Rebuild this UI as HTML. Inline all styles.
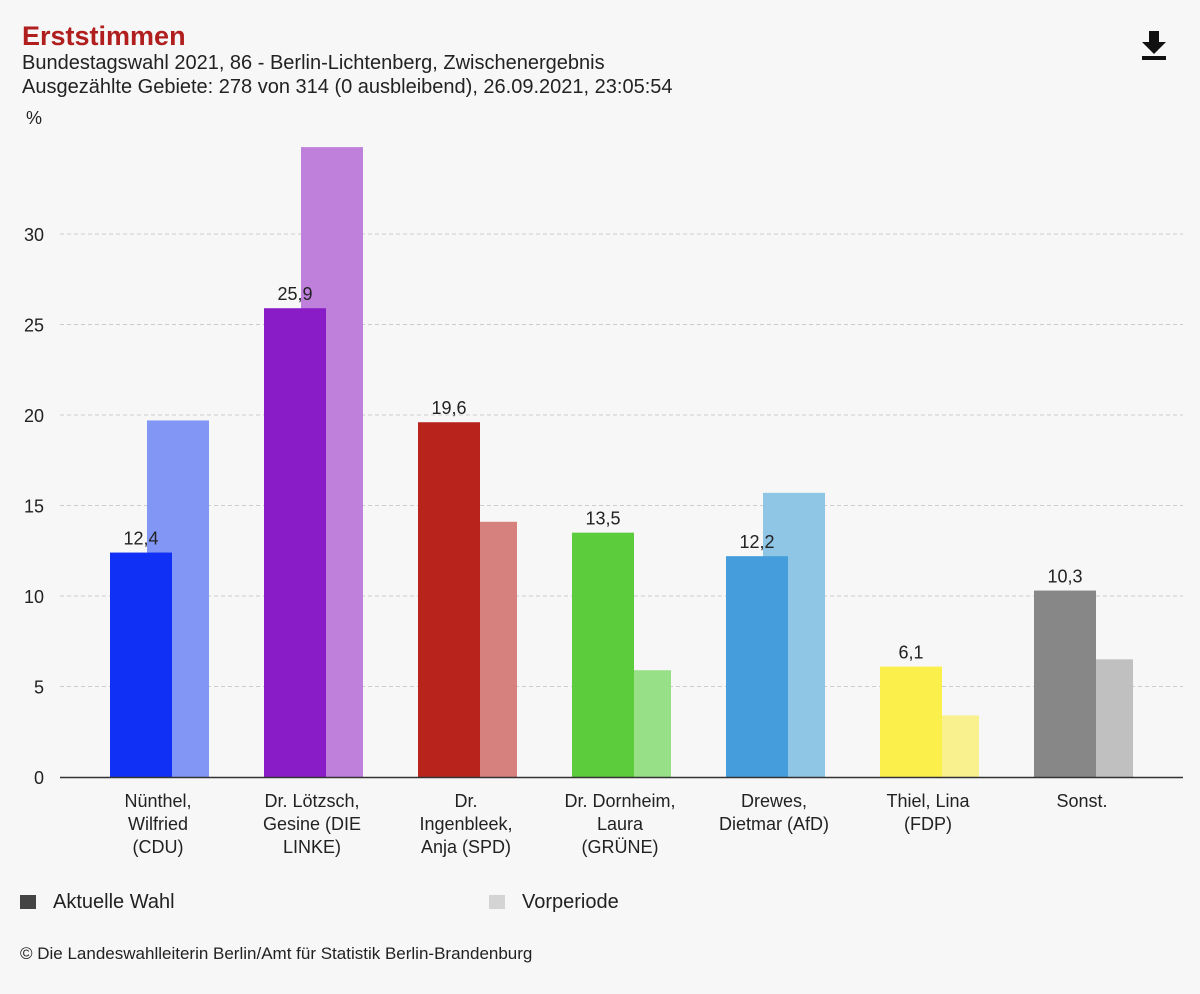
<!DOCTYPE html>
<html><head><meta charset="utf-8"><style>
body{margin:0;background:#f7f7f7;font-family:"Liberation Sans",Arial,sans-serif;}
#wrap{position:relative;width:1200px;height:994px;background:#f7f7f7;overflow:hidden}
.t{position:absolute;white-space:nowrap}
</style></head><body>
<div id="wrap">
<div class="t" style="left:22px;top:21px;font-size:27px;font-weight:bold;color:#b01e1e">Erststimmen</div>
<div class="t" style="left:22px;top:52px;font-size:20px;color:#222">Bundestagswahl 2021, 86 - Berlin-Lichtenberg, Zwischenergebnis</div>
<div class="t" style="left:22px;top:76px;font-size:20px;color:#222">Ausgezählte Gebiete: 278 von 314 (0 ausbleibend), 26.09.2021, 23:05:54</div>
<svg class="t" style="left:1140px;top:30px" width="28" height="32"><path d="M9 1h10v11h7l-12 12-12-12h7z" fill="#111"/><rect x="2" y="26" width="24" height="4" fill="#111"/></svg>
<svg id="chart" width="1200" height="994" style="position:absolute;left:0;top:0;pointer-events:none"></svg>
<div class="t" style="left:20px;top:895px;width:16px;height:14px;background:#444"></div>
<div class="t" style="left:53px;top:891px;font-size:20px;color:#222">Aktuelle Wahl</div>
<div class="t" style="left:489px;top:895px;width:16px;height:14px;background:#d4d4d4"></div>
<div class="t" style="left:522px;top:891px;font-size:20px;color:#222">Vorperiode</div>
<div class="t" style="left:20px;top:944px;font-size:17px;color:#222">© Die Landeswahlleiterin Berlin/Amt für Statistik Berlin-Brandenburg</div>
</div>
<script>
const categories=[["Nünthel,","Wilfried","(CDU)"],["Dr. Lötzsch,","Gesine (DIE","LINKE)"],["Dr.","Ingenbleek,","Anja (SPD)"],["Dr. Dornheim,","Laura","(GRÜNE)"],["Drewes,","Dietmar (AfD)"],["Thiel, Lina","(FDP)"],["Sonst."]];
const current=[12.4,25.9,19.6,13.5,12.2,6.1,10.3];
const previous=[19.7,34.8,14.1,5.9,15.7,3.4,6.5];
const labels=["12,4","25,9","19,6","13,5","12,2","6,1","10,3"];
const ticks=[0,5,10,15,20,25,30];
const colCur=["#1030f5","#8a1cc8","#b8241c","#5ccb3c","#459ddb","#fbef4c","#878787"];
const colPrev=["#8296f5","#bf80dc","#d6817d","#98e088","#8fc6e6","#f9f08e","#c0c0c0"];
const svg=document.getElementById('chart');const NS="http://www.w3.org/2000/svg";
const y=v=>777-v*18.1;const gx=i=>110+i*154;
function mk(t,a,p){const e=document.createElementNS(NS,t);for(const k in a)e.setAttribute(k,a[k]);(p||svg).appendChild(e);return e;}
const yt=mk('text',{x:26,y:124,'font-size':18,fill:'#222'});yt.textContent='%';


ticks.forEach(t=>{
 if(t>0){const l=mk('line',{x1:60,x2:1183,y1:y(t),y2:y(t),stroke:'#ccc','stroke-dasharray':'4,3'});
 
 }
 const tx=mk('text',{x:44,y:y(t)+7,'font-size':18,fill:'#222','text-anchor':'end'});tx.textContent=t;
 
 
});
categories.forEach((c,i)=>{
 const p=mk('rect',{x:gx(i)+37,y:y(previous[i]),width:62,height:previous[i]*18.1,fill:colPrev[i]});
 
 
 const r=mk('rect',{x:gx(i),y:y(current[i]),width:62,height:current[i]*18.1,fill:colCur[i]});
 
 
 const v=mk('text',{x:gx(i)+31,y:y(current[i])-8,'font-size':18,fill:'#222','text-anchor':'middle'});v.textContent=labels[i];
 
 
 c.forEach((s,j)=>{const tx=mk('text',{x:gx(i)+48,y:807+j*23,'font-size':18,fill:'#222','text-anchor':'middle'});tx.textContent=s;
 
 });
});
const ax=mk('line',{x1:60,x2:1183,y1:777.5,y2:777.5,stroke:'#333','stroke-width':1.5});


</script>
</body></html>
